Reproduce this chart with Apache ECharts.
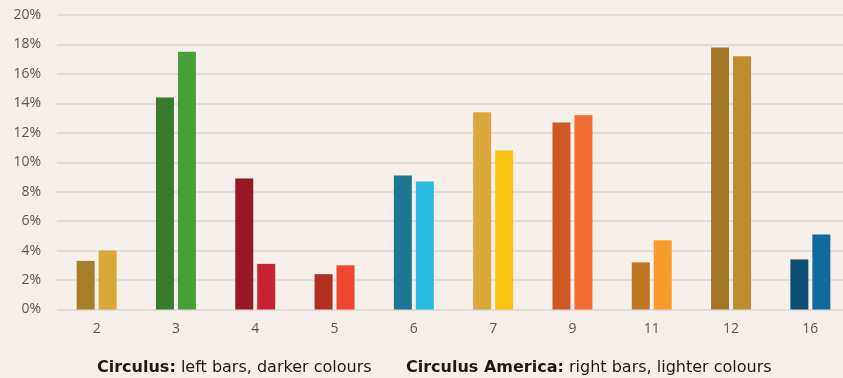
<!DOCTYPE html>
<html>
<head>
<meta charset="utf-8">
<script src="https://cdn.jsdelivr.net/npm/echarts@6/dist/echarts.min.js"></script>
<style>
html,body{margin:0;padding:0;background:#F7EFE9;}
#c{width:843px;height:378px;}
</style>
</head>
<body>
<div id="c"></div>
<script>
var categories = ['2','3','4','5','6','7','9','11','12','16'];
var circulus = [3.3, 14.4, 8.9, 2.4, 9.1, 13.4, 12.7, 3.2, 17.8, 3.4];
var circulusAmerica = [4.0, 17.5, 3.1, 3.0, 8.7, 10.8, 13.2, 4.7, 17.2, 5.1];
var yTicks = [0, 2, 4, 6, 8, 10, 12, 14, 16, 18, 20];

var darkColors = ['#A67F2B','#3A7A2C','#961927','#B22E22','#1E7792','#DBA73A','#CE5927','#BF7622','#A37826','#0E4D74'];
var lightColors = ['#DBA73A','#479F38','#C92132','#EF4630','#2ABBE2','#FCC412','#F26B31','#F79C2B','#C08D2E','#106A9E'];

var chart = echarts.init(document.getElementById('c'), null, {renderer:'canvas'});
chart.setOption({
  backgroundColor: '#F7EFE9',
  animation: false,
  grid: {left: 57, top: 15, width: 793, height: 294.5, outerBoundsMode: 'none', containLabel: false},
  xAxis: {
    type: 'category',
    data: categories,
    axisLine: {show: false},
    axisTick: {show: false},
    axisLabel: {color: '#595959', fontFamily: 'Open Sans', fontSize: 14, margin: 13}
  },
  yAxis: {
    type: 'value',
    min: yTicks[0],
    max: yTicks[yTicks.length - 1],
    interval: 2,
    axisLine: {show: false},
    axisTick: {show: false},
    splitLine: {lineStyle: {color: '#DDD7D3', width: 1.5}},
    axisLabel: {color: '#595959', fontFamily: 'Open Sans', fontSize: 14, margin: 16, formatter: '{value}%'}
  },
  series: [
    {
      type: 'bar',
      name: 'Circulus',
      barWidth: 18,
      barGap: '22%',
      data: circulus.map(function(v, i){ return {value: v, itemStyle: {color: darkColors[i]}}; })
    },
    {
      type: 'bar',
      name: 'Circulus America',
      barWidth: 18,
      barGap: '22%',
      data: circulusAmerica.map(function(v, i){ return {value: v, itemStyle: {color: lightColors[i]}}; })
    }
  ],
  graphic: [
    {
      type: 'text',
      left: 97,
      top: 360,
      style: {
        text: '{b|Circulus:} left bars, darker colours',
        rich: {b: {fontWeight: 'bold', fontFamily: 'DejaVu Sans', fontSize: 16, fill: '#1A1A1A'}},
        fontFamily: 'DejaVu Sans', fontSize: 16, fill: '#1A1A1A'
      }
    },
    {
      type: 'text',
      left: 406,
      top: 360,
      style: {
        text: '{b|Circulus America:} right bars, lighter colours',
        rich: {b: {fontWeight: 'bold', fontFamily: 'DejaVu Sans', fontSize: 16, fill: '#1A1A1A'}},
        fontFamily: 'DejaVu Sans', fontSize: 16, fill: '#1A1A1A'
      }
    }
  ]
});
</script>
</body>
</html>
